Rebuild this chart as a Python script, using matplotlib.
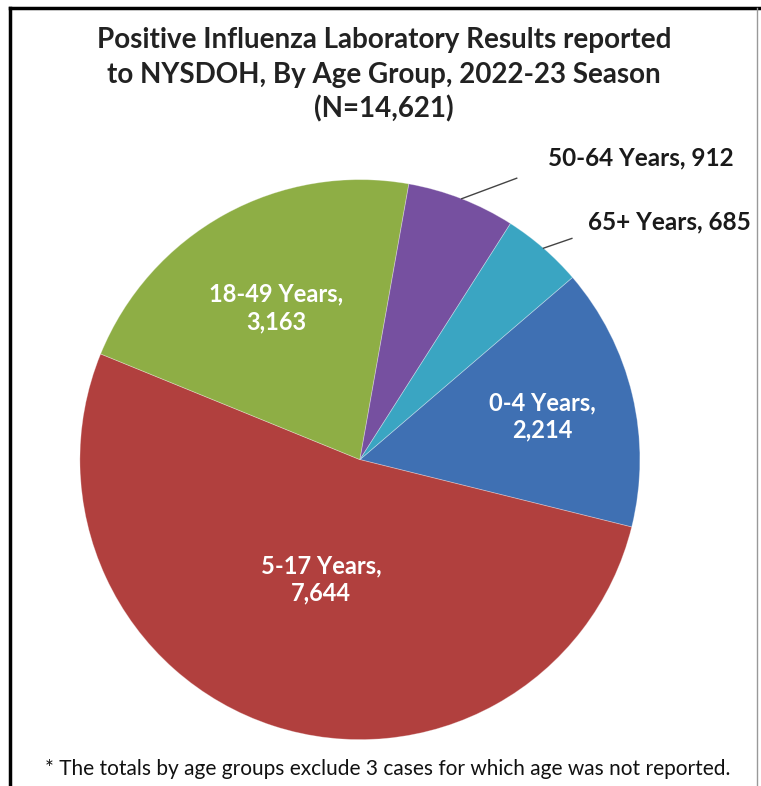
import numpy as np
import matplotlib
matplotlib.use('Agg')
import matplotlib.pyplot as plt
from matplotlib.lines import Line2D

# Datos del grafico
grupos = ['0-4 Years', '5-17 Years', '18-49 Years', '50-64 Years', '65+ Years']
casos = [2214, 7644, 3163, 912, 685]
etiquetas = ['2,214', '7,644', '3,163', '912', '685']
colores = ['#3f70b3', '#b1403e', '#8eae45', '#7650a0', '#3aa5c2']

plt.rcParams['font.family'] = ['Lato', 'DejaVu Sans']

fig = plt.figure(figsize=(7.61, 7.86), dpi=100)
fig.patch.set_facecolor('white')

ax = fig.add_axes([0.105, 0.059, 0.7359, 0.7125])
wedges, _ = ax.pie(casos, colors=colores, startangle=40.6, counterclock=False,
                   radius=1.0, wedgeprops=dict(linewidth=0.6, edgecolor='#ffffff55'))
ax.set_xlim(-1, 1)
ax.set_ylim(-1, 1)
ax.set_aspect('equal')
ax.axis('off')

# Etiquetas dentro de las porciones grandes
r_in = {0: 0.67, 1: 0.45, 2: 0.62}
for i, r in r_in.items():
    w = wedges[i]
    ang = np.deg2rad((w.theta1 + w.theta2) / 2)
    ax.text(r * np.cos(ang), r * np.sin(ang), grupos[i] + ',\n' + etiquetas[i],
            ha='center', va='center', color='white', fontsize=17,
            fontweight='bold', linespacing=1.25)

# Etiquetas fuera con linea guia
texto_pos = {3: (0.671, 1.079), 4: (0.814, 0.85)}
codo = {3: (0.56, 1.005), 4: (0.757, 0.79)}
for i in (3, 4):
    w = wedges[i]
    ang = np.deg2rad((w.theta1 + w.theta2) / 2)
    p0 = (1.0 * np.cos(ang), 1.0 * np.sin(ang))
    p1 = codo[i]
    ax.plot([p0[0], p1[0]], [p0[1], p1[1]], color='#444444', lw=1.0, clip_on=False)
    ax.text(texto_pos[i][0], texto_pos[i][1], grupos[i] + ', ' + etiquetas[i],
            ha='left', va='center', color='#1a1a1a', fontsize=17.5,
            fontweight='bold', clip_on=False)

# Titulo
fig.text(0.505, 0.949, 'Positive Influenza Laboratory Results reported',
         ha='center', va='center', fontsize=20, fontweight='bold', color='#222222')
fig.text(0.505, 0.905, 'to NYSDOH, By Age Group, 2022-23 Season',
         ha='center', va='center', fontsize=20, fontweight='bold', color='#222222')
fig.text(0.505, 0.862, '(N=14,621)',
         ha='center', va='center', fontsize=20, fontweight='bold', color='#222222')

# Nota al pie
fig.text(0.51, 0.022, '* The totals by age groups exclude 3 cases for which age was not reported.',
         ha='center', va='center', fontsize=15, color='#111111')

# Marco
fig.add_artist(Line2D([0.013, 0.013], [0.0, 0.99], transform=fig.transFigure, color='black', lw=2.5))
fig.add_artist(Line2D([0.013, 1.0], [0.99, 0.99], transform=fig.transFigure, color='black', lw=2.5))
fig.add_artist(Line2D([0.995, 0.995], [0.0, 0.99], transform=fig.transFigure, color='#999999', lw=1.0))

fig.savefig('out.png', dpi=100, facecolor='white')
